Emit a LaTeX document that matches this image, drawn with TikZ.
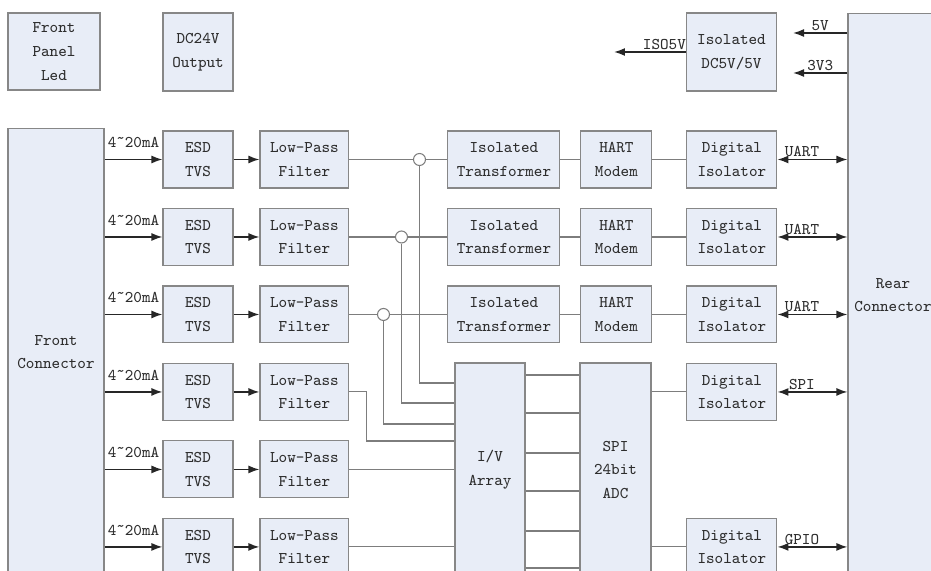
\documentclass[tikz,border=0pt]{standalone}
\usepackage{fontspec}
\usetikzlibrary{arrows.meta}
\definecolor{boxfill}{RGB}{232,237,247}
\definecolor{boxline}{RGB}{135,135,135}
\definecolor{wirecol}{RGB}{125,125,125}
\definecolor{textcol}{RGB}{45,45,45}
\tikzset{
  box/.style={draw=boxline, fill=boxfill, line width=0.6pt, align=center, text=textcol, inner sep=1pt},
  chbox/.style={box, minimum height=1.14cm},
  esdbox/.style={chbox, minimum width=1.4cm},
  lpfbox/.style={chbox, minimum width=1.78cm},
  xfmbox/.style={chbox, minimum width=2.24cm},
  hartbox/.style={chbox, minimum width=1.42cm},
  digbox/.style={chbox, minimum width=1.8cm},
  wire/.style={draw=wirecol, line width=0.6pt},
  sig/.style={draw=black!85, line width=0.9pt},
  lbl/.style={text=textcol, inner sep=1pt},
  junc/.style={circle, draw=wirecol, fill=white, line width=0.6pt, minimum size=0.24cm, inner sep=0pt},
}
\begin{document}
\begin{tikzpicture}[x=0.02cm, y=-0.02cm, node distance=1.55cm, >={Latex[length=2.2mm,width=1.6mm]},
    every node/.style={font=\ttfamily\fontsize{9.3}{13.5}\selectfont}]
    \path[use as bounding box, clip] (0,0) rectangle (931,571);

    % top row and connectors
    \node[box, minimum width=1.84cm, minimum height=1.54cm] (panel) at (54,51.5) {Front\\Panel\\Led};
    \node[box, minimum width=1.4cm, minimum height=1.56cm] (dc24) at (198,52) {DC24V\\Output};
    \node[box, minimum width=1.8cm, minimum height=1.56cm] (isodc) at (731.5,52) {Isolated\\DC5V/5V};
    \node[box, minimum width=1.8cm, minimum height=11.28cm] (rear) at (893,295) {Rear\\Connector};
    \node[box, minimum width=1.92cm, minimum height=8.96cm] (front) at (56,352) {Front\\Connector};

    % input channels
    \node[esdbox] (esd1) at (198,159.5) {ESD\\TVS};
    \node[esdbox, below of=esd1] (esd2) {ESD\\TVS};
    \node[esdbox, below of=esd2] (esd3) {ESD\\TVS};
    \node[esdbox, below of=esd3] (esd4) {ESD\\TVS};
    \node[esdbox, below of=esd4] (esd5) {ESD\\TVS};
    \node[esdbox, below of=esd5] (esd6) {ESD\\TVS};

    \node[lpfbox, node distance=2.13cm, right of=esd1] (lpf1) {Low-Pass\\Filter};
    \node[lpfbox, node distance=2.13cm, right of=esd2] (lpf2) {Low-Pass\\Filter};
    \node[lpfbox, node distance=2.13cm, right of=esd3] (lpf3) {Low-Pass\\Filter};
    \node[lpfbox, node distance=2.13cm, right of=esd4] (lpf4) {Low-Pass\\Filter};
    \node[lpfbox, node distance=2.13cm, right of=esd5] (lpf5) {Low-Pass\\Filter};
    \node[lpfbox, node distance=2.13cm, right of=esd6] (lpf6) {Low-Pass\\Filter};

    % HART path
    \node[xfmbox, node distance=3.99cm, right of=lpf1] (xfm1) {Isolated\\Transformer};
    \node[xfmbox, node distance=3.99cm, right of=lpf2] (xfm2) {Isolated\\Transformer};
    \node[xfmbox, node distance=3.99cm, right of=lpf3] (xfm3) {Isolated\\Transformer};
    \node[hartbox, node distance=2.25cm, right of=xfm1] (hart1) {HART\\Modem};
    \node[hartbox, node distance=2.25cm, right of=xfm2] (hart2) {HART\\Modem};
    \node[hartbox, node distance=2.25cm, right of=xfm3] (hart3) {HART\\Modem};
    \node[digbox, node distance=2.31cm, right of=hart1] (dig1) {Digital\\Isolator};
    \node[digbox, node distance=2.31cm, right of=hart2] (dig2) {Digital\\Isolator};
    \node[digbox, node distance=2.31cm, right of=hart3] (dig3) {Digital\\Isolator};
    \node[digbox, below of=dig3] (dig4) {Digital\\Isolator};
    \node[digbox, node distance=3.1cm, below of=dig4] (dig6) {Digital\\Isolator};

    \node[junc] (j1) at ([xshift=1.4cm]lpf1.east) {};
    \node[junc] (j2) at ([xshift=1.04cm]lpf2.east) {};
    \node[junc] (j3) at ([xshift=0.68cm]lpf3.east) {};

    % measuring path
    \node[box, minimum width=1.4cm, minimum height=4.28cm] (iv) at (490,470) {I/V\\Array};
    \node[box, minimum width=1.42cm, minimum height=4.28cm] (adc) at (615.5,470) {SPI\\24bit\\ADC};

    \coordinate (isoout) at ([xshift=-1.44cm]isodc.west);
    \coordinate (v5) at (793,33);
    \coordinate (v33) at (793,73);

    \draw[sig, ->] (isodc) -- (isoout) node[lbl, above, pos=0.3] {ISO5V};
    \draw[sig, ->] (rear.west |- v5) -- (v5) node[lbl, above, midway] {5V};
    \draw[sig, ->] (rear.west |- v33) -- (v33) node[lbl, above, midway] {3V3};

    \draw[sig, ->] (front.east |- esd1) -- (esd1) node[lbl, above=5pt, midway] {4˜20mA};
    \draw[sig, ->] (front.east |- esd2) -- (esd2) node[lbl, above=5pt, midway] {4˜20mA};
    \draw[sig, ->] (front.east |- esd3) -- (esd3) node[lbl, above=5pt, midway] {4˜20mA};
    \draw[sig, ->] (front.east |- esd4) -- (esd4) node[lbl, above=5pt, midway] {4˜20mA};
    \draw[sig, ->] (front.east |- esd5) -- (esd5) node[lbl, above=5pt, midway] {4˜20mA};
    \draw[sig, ->] (front.east |- esd6) -- (esd6) node[lbl, above=5pt, midway] {4˜20mA};

    \draw[sig, ->] (esd1) -- (lpf1);
    \draw[sig, ->] (esd2) -- (lpf2);
    \draw[sig, ->] (esd3) -- (lpf3);
    \draw[sig, ->] (esd4) -- (lpf4);
    \draw[sig, ->] (esd5) -- (lpf5);
    \draw[sig, ->] (esd6) -- (lpf6);

    \draw[wire] (lpf1) -- (j1) -- (xfm1) -- (hart1) -- (dig1);
    \draw[wire] (lpf2) -- (j2) -- (xfm2) -- (hart2) -- (dig2);
    \draw[wire] (lpf3) -- (j3) -- (xfm3) -- (hart3) -- (dig3);

    \draw[wire] (j1) |- ([yshift=1.74cm]iv.west);
    \draw[wire] (j2) |- ([yshift=1.34cm]iv.west);
    \draw[wire] (j3) |- ([yshift=0.92cm]iv.west);
    \draw[wire] (lpf4.east) -- ++(17,0) |- ([yshift=0.58cm]iv.west);
    \draw[wire] (lpf5) -- (lpf5 -| iv.west);
    \draw[wire] (lpf6) -- (lpf6 -| iv.west);

    \draw[wire] ([yshift=1.9cm]iv.east) -- ([yshift=1.9cm]iv.east -| adc.west);
    \draw[wire] ([yshift=1.14cm]iv.east) -- ([yshift=1.14cm]iv.east -| adc.west);
    \draw[wire] ([yshift=0.34cm]iv.east) -- ([yshift=0.34cm]iv.east -| adc.west);
    \draw[wire] ([yshift=-0.42cm]iv.east) -- ([yshift=-0.42cm]iv.east -| adc.west);
    \draw[wire] ([yshift=-1.22cm]iv.east) -- ([yshift=-1.22cm]iv.east -| adc.west);
    \draw[wire] ([yshift=-1.96cm]iv.east) -- ([yshift=-1.96cm]iv.east -| adc.west);

    \draw[wire] (adc.east |- dig4) -- (dig4);
    \draw[wire] (adc.east |- dig6) -- (dig6);

    \draw[sig, <->] (dig1) -- (dig1 -| rear.west) node[lbl, above, pos=0.35] {UART};
    \draw[sig, <->] (dig2) -- (dig2 -| rear.west) node[lbl, above, pos=0.35] {UART};
    \draw[sig, <->] (dig3) -- (dig3 -| rear.west) node[lbl, above, pos=0.35] {UART};
    \draw[sig, <->] (dig4) -- (dig4 -| rear.west) node[lbl, above, pos=0.35] {SPI};
    \draw[sig, <->] (dig6) -- (dig6 -| rear.west) node[lbl, above, pos=0.35] {GPIO};
\end{tikzpicture}
\end{document}
